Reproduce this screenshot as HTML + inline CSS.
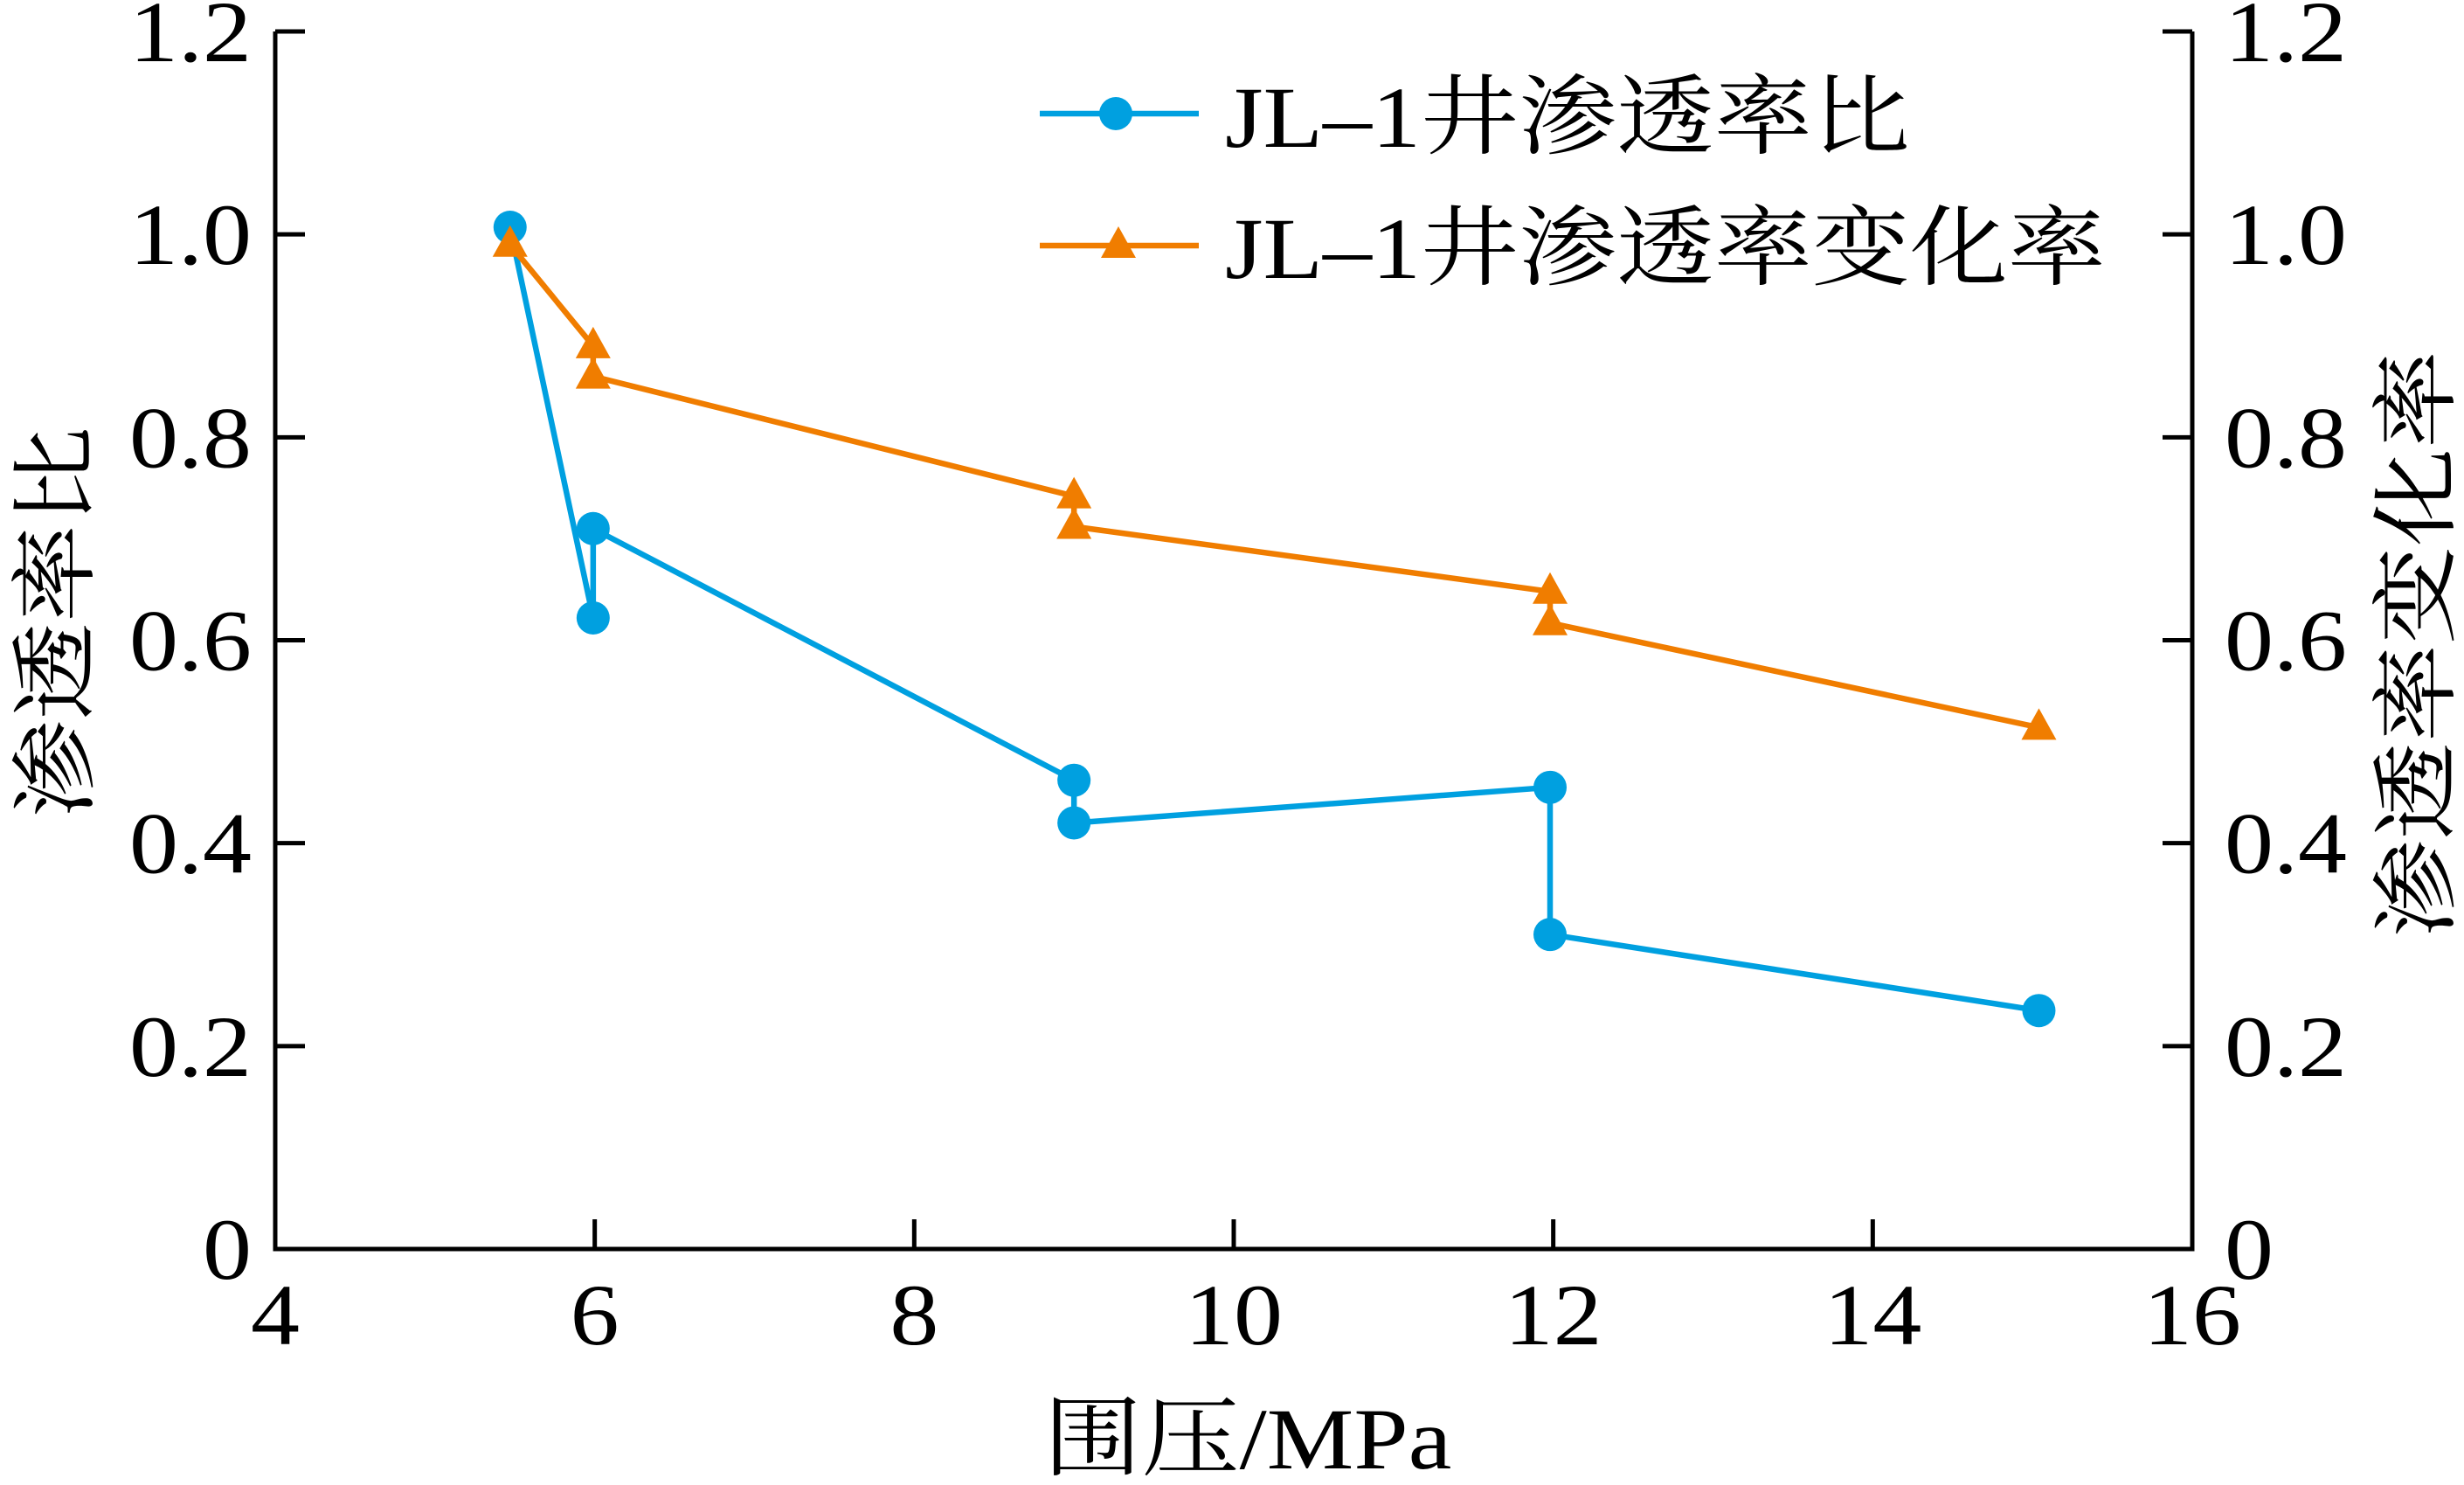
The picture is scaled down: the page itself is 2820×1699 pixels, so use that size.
<!DOCTYPE html>
<html><head><meta charset="utf-8"><style>
html,body{margin:0;padding:0;background:#fff}
text{font-family:"Liberation Serif","Noto Serif CJK SC","Noto Sans CJK SC",serif;fill:#000}
</style></head><body>
<svg id="chart" width="2820" height="1694" xmlns="http://www.w3.org/2000/svg"></svg>
<script>
const xTicks=[4,6,8,10,12,14,16];
const yTicks=[0,0.2,0.4,0.6,0.8,1.0,1.2];
const yTickLabels=["0","0.2","0.4","0.6","0.8","1.0","1.2"];
const ratioX=[5.47,5.99,5.99,9.0,9.0,11.98,11.98,15.04];
const ratioY=[1.007,0.622,0.71,0.462,0.42,0.455,0.31,0.235];
const changeX=[5.47,5.99,5.99,9.0,9.0,11.98,11.98,15.04];
const changeY=[0.99,0.89,0.86,0.742,0.712,0.648,0.617,0.514];
const L=315,R=2509,T=36,B=1429;
const sx=v=>L+(v-4)/(16-4)*(R-L);
const sy=v=>B-v/1.2*(B-T);
const svg=document.getElementById('chart');
const NS='http://www.w3.org/2000/svg';
function mk(tag,attrs,parent){const e=document.createElementNS(NS,tag);for(const k in attrs)e.setAttribute(k,attrs[k]);(parent||svg).appendChild(e);return e;}
function txt(x,y,s,anchor,extra,parent){return mk('text',{x:0,y:0,'font-size':100,'text-anchor':anchor,transform:`translate(${x},${y}) ${extra||''} scale(1.12,1)`},parent);}
let a=mk('path',{d:`M${L},${T}V${B}H${R}V${T}`,fill:'none',stroke:'#000','stroke-width':5});


let tk=34;
xTicks.forEach((v,i)=>{
 let l=mk('line',{x1:sx(v),x2:sx(v),y1:B,y2:B-tk,stroke:'#000','stroke-width':5});
 
 
 let t=txt(sx(v),1538,'','middle');
 t.textContent=String(v);
 
 
});
yTicks.forEach((v,i)=>{
 let l=mk('line',{x1:L,x2:L+tk,y1:sy(v),y2:sy(v),stroke:'#000','stroke-width':5});
 
 
 let l2=mk('line',{x1:R,x2:R-tk,y1:sy(v),y2:sy(v),stroke:'#000','stroke-width':5});
 
 
 let t=txt(288,sy(v)+34,'','end');
 t.textContent=yTickLabels[i];
 
 
 let t2=txt(2546,sy(v)+34,'','start');
 t2.textContent=yTickLabels[i];
 
 
});
function series(xs,ys,color,marker,name){
 let d=xs.map((x,i)=>(i?'L':'M')+sx(x)+','+sy(ys[i])).join('');
 let p=mk('path',{d:d,fill:'none',stroke:color,'stroke-width':6.5});
 
 
 xs.forEach((x,i)=>{
  let m;
  if(marker==='circle'){m=mk('circle',{cx:sx(x),cy:sy(ys[i]),r:19,fill:color});}
  else{const cx=sx(x),cy=sy(ys[i]);m=mk('path',{d:`M${cx},${cy-22}L${cx+20},${cy+14}L${cx-20},${cy+14}Z`,fill:color});}
  
  
 });
}
series(ratioX,ratioY,'#00a0e0','circle','permeability-ratio');
series(changeX,changeY,'#f07d00','triangle','permeability-change-rate');
let g=mk('g',{});


let ll=mk('line',{x1:1190,x2:1372,y1:130,y2:130,stroke:'#00a0e0','stroke-width':6.5},g);


let lc=mk('circle',{cx:1277,cy:130,r:19,fill:'#00a0e0'},g);


let lt=txt(1402,168,'','start','',g);
lt.textContent='JL–1井渗透率比';


let ll2=mk('line',{x1:1190,x2:1372,y1:281,y2:281,stroke:'#f07d00','stroke-width':6.5},g);


let lm2=mk('path',{d:'M1280,259L1300,295L1260,295Z',fill:'#f07d00'},g);


let lt2=txt(1402,318,'','start','',g);
lt2.textContent='JL–1井渗透率变化率';


let xt=txt(1428,1680,'','middle');
xt.textContent='围压/MPa';


let yt=txt(98,712,'','middle','rotate(-90)');
yt.textContent='渗透率比';


let yt2=txt(2800,737,'','middle','rotate(-90)');
yt2.textContent='渗透率变化率';


</script>
</body></html>
